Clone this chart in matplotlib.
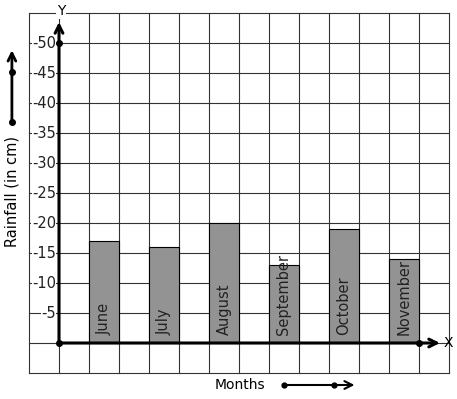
import matplotlib.pyplot as plt

months = ["June", "July", "August", "September", "October", "November"]
rainfall = [17, 16, 20, 13, 19, 14]
bar_left = [1, 3, 5, 7, 9, 11]
yticks = [5, 10, 15, 20, 25, 30, 35, 40, 45, 50]


def main():
    fig = plt.figure(figsize=(4.57, 3.99), dpi=100)
    ax = fig.add_axes([29 / 457, 26 / 399, 420 / 457, 360 / 399])
    ax.set_xlim(-1, 13)
    ax.set_ylim(-5, 55)

    # grid
    for x in range(-1, 14):
        ax.axvline(x, color="#333333", lw=0.8, zorder=0, clip_on=False)
    for y in range(-5, 56, 5):
        ax.axhline(y, color="#333333", lw=0.8, zorder=0, clip_on=False)
    for s in ax.spines.values():
        s.set_visible(False)
    ax.set_xticks([])
    ax.set_yticks([])

    # bars
    ax.bar(bar_left, rainfall, width=1, align="edge", color="#939393",
           edgecolor="black", lw=0.8, zorder=2)
    for x, m in zip(bar_left, months):
        ax.text(x + 0.5, 1.4, m, rotation=90, ha="center", va="bottom",
                fontsize=10.5, color="#222222", zorder=3)

    # axes with arrows
    ax.annotate("", xy=(0, 53.5), xytext=(0, 0),
                arrowprops=dict(arrowstyle="->", lw=2.2, color="black",
                                shrinkA=0, shrinkB=0, mutation_scale=14), zorder=4)
    ax.annotate("", xy=(12.7, 0), xytext=(0, 0),
                arrowprops=dict(arrowstyle="->", lw=2.2, color="black",
                                shrinkA=0, shrinkB=0, mutation_scale=14), zorder=4)
    ax.plot([0, 0, 12], [0, 50, 0], "o", color="black", ms=4, zorder=5)
    ax.text(0.07, 55.3, "Y", ha="center", va="center", fontsize=10,
            clip_on=False, bbox=dict(fc="white", ec="none", pad=0.5))
    ax.text(12.97, 0, "X", ha="center", va="center", fontsize=10, clip_on=False)

    # y tick labels
    for t in yticks:
        ax.text(-0.1, t, "-" + str(t), ha="right", va="center", fontsize=10.5,
                color="#222222", bbox=dict(fc="white", ec="none", pad=0.3))

    # left side label and arrow
    ax.text(-1.57, 25.2, "Rainfall (in cm)", rotation=90, ha="center",
            va="center", fontsize=10.5, clip_on=False)
    ax.annotate("", xy=(-1.57, 48.8), xytext=(-1.57, 36.8),
                arrowprops=dict(arrowstyle="->", lw=2, color="black",
                                shrinkA=0, shrinkB=0, mutation_scale=14),
                annotation_clip=False)
    ax.plot([-1.57, -1.57], [36.8, 45.2], "o", color="black", ms=4, clip_on=False)

    # bottom label and arrow
    ax.text(6.03, -7, "Months", ha="center", va="center", fontsize=10, clip_on=False)
    ax.annotate("", xy=(9.85, -7), xytext=(7.5, -7),
                arrowprops=dict(arrowstyle="->", lw=1.5, color="black",
                                shrinkA=0, shrinkB=0, mutation_scale=14),
                annotation_clip=False)
    ax.plot([7.5, 9.17], [-7, -7], "o", color="black", ms=3.5, clip_on=False)

    fig.savefig("out.png", dpi=100)


if __name__ == "__main__":
    main()
